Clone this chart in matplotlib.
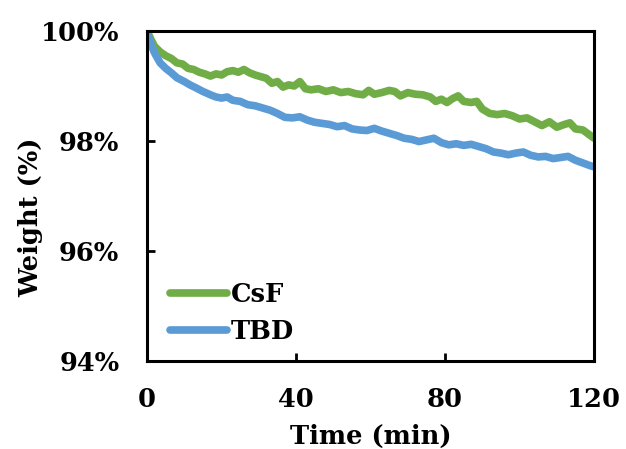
import matplotlib
matplotlib.use("Agg")
import matplotlib.pyplot as plt
from matplotlib.ticker import FuncFormatter

csf_t = [0, 1, 2, 3.5, 5, 6.5, 8, 9.5, 11, 12.5, 14, 15.5, 17, 18.5, 20, 21.5, 23, 24.5, 26, 27.5,
         29, 30.5, 32, 33.5, 35, 36.5, 38, 39.5, 41, 42.5, 44, 46, 48, 50, 52, 54, 56, 58, 59.5, 61,
         63, 65, 66.5, 68, 70, 72, 74, 76, 77.5, 79, 80.5, 82, 83.5, 85, 87, 88.5, 90, 92, 94, 96,
         98, 100, 102, 104, 106, 108, 110, 112, 113.5, 115, 117, 119, 120]
csf_w = [100.0, 99.85, 99.72, 99.62, 99.55, 99.50, 99.42, 99.40, 99.32, 99.30, 99.25, 99.22, 99.18,
         99.22, 99.20, 99.26, 99.28, 99.25, 99.30, 99.24, 99.20, 99.17, 99.14, 99.05, 99.08, 98.98,
         99.02, 99.00, 99.08, 98.95, 98.93, 98.95, 98.90, 98.93, 98.88, 98.90, 98.86, 98.84, 98.92,
         98.85, 98.88, 98.92, 98.90, 98.82, 98.88, 98.85, 98.84, 98.80, 98.72, 98.76, 98.70, 98.77,
         98.82, 98.72, 98.70, 98.72, 98.58, 98.50, 98.48, 98.50, 98.46, 98.40, 98.42, 98.35, 98.28,
         98.35, 98.25, 98.30, 98.33, 98.22, 98.20, 98.10, 98.05]

tbd_t = [0, 0.8, 2, 3.5, 5, 6.5, 8, 10, 11.5, 13, 15, 17, 18.5, 20, 21.5, 23, 25, 27, 29, 31, 33,
         35, 37, 39, 41, 43, 45, 47, 49, 51, 53, 55, 57, 59, 61, 63, 65, 67, 69, 71, 73, 75, 77, 79,
         81, 83, 85, 87, 89, 91, 93, 95, 97, 99, 101, 103, 105, 107, 109, 111, 113, 115, 117, 119, 120]
tbd_w = [100.0, 99.80, 99.60, 99.42, 99.32, 99.24, 99.15, 99.08, 99.02, 98.97, 98.90, 98.84, 98.80,
         98.78, 98.80, 98.74, 98.72, 98.66, 98.64, 98.60, 98.56, 98.50, 98.43, 98.42, 98.44, 98.38,
         98.34, 98.32, 98.30, 98.26, 98.28, 98.22, 98.20, 98.19, 98.23, 98.18, 98.14, 98.10, 98.05,
         98.03, 97.99, 98.02, 98.05, 97.97, 97.93, 97.95, 97.92, 97.94, 97.90, 97.86, 97.80, 97.78,
         97.75, 97.78, 97.80, 97.74, 97.71, 97.72, 97.68, 97.70, 97.72, 97.65, 97.60, 97.55, 97.53]

x_ticks = [0, 40, 80, 120]
y_ticks = [94, 96, 98, 100]

FS = 18.5
font = {"family": "DejaVu Serif", "weight": "bold", "size": FS}

fig = plt.figure(figsize=(6.26, 4.49), dpi=100)
ax = fig.add_axes([0.235, 0.196, 0.714, 0.735])
ax.plot(csf_t, csf_w, color="#70AD47", lw=5.5, label="CsF", solid_capstyle="round")
ax.plot(tbd_t, tbd_w, color="#5B9BD5", lw=5.5, label="TBD", solid_capstyle="round")
ax.set_xlim(0, 120)
ax.set_ylim(94, 100)
ax.set_xticks(x_ticks)
ax.set_yticks(y_ticks)
ax.yaxis.set_major_formatter(FuncFormatter(lambda v, p: f"{v:.0f}%"))
for s in ax.spines.values():
    s.set_linewidth(2.2)
ax.tick_params(direction="in", length=6, width=2)
ax.tick_params(axis="y", pad=20)
ax.tick_params(axis="x", pad=19)
for lab in ax.get_xticklabels() + ax.get_yticklabels():
    lab.set_fontfamily("DejaVu Serif")
    lab.set_fontweight("bold")
    lab.set_fontsize(FS)
ax.set_xlabel("Time (min)", fontdict=font)
ax.set_ylabel("Weight (%)", fontdict=font)
ax.xaxis.set_label_coords(0.5, -0.19)
ax.yaxis.set_label_coords(-0.233, 0.436)
leg = ax.legend(loc="lower left", bbox_to_anchor=(0.0, -0.018), frameon=False,
                prop={"family": "DejaVu Serif", "weight": "bold", "size": FS},
                handlelength=2.2, handletextpad=0.15, labelspacing=0.45)
fig.savefig("out.png", dpi=100)
